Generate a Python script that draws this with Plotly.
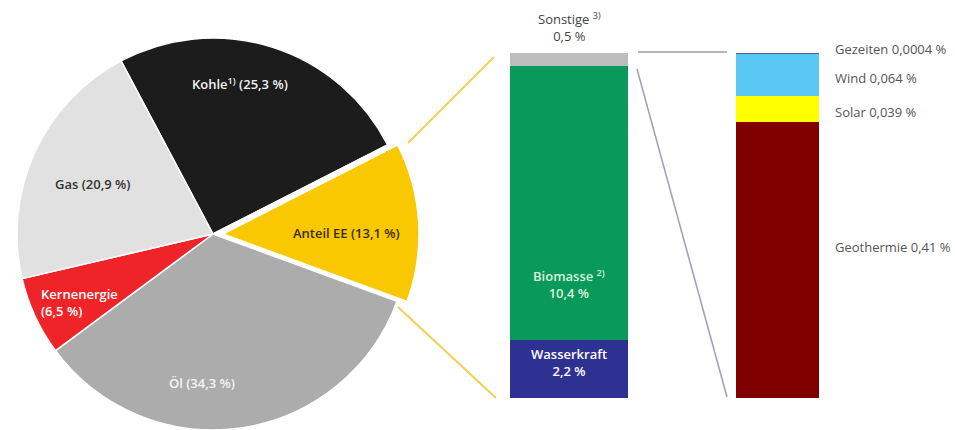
import plotly.graph_objects as go

W, H = 955, 430

# ---- data ----
pie_labels = ["Kohle", "Anteil EE", "Öl", "Kernenergie", "Gas"]
pie_values = [25.3, 13.1, 34.3, 6.5, 20.9]
pie_colors = ["#1c1c1c", "#f9c800", "#acacac", "#ee2429", "#e1e1e1"]
pie_texts = ["Kohle<sup>1)</sup> (25,3 %)", "Anteil EE (13,1 %)", "Öl (34,3 %)",
             "Kernenergie<br>(6,5 %)", "Gas (20,9 %)"]

ee_labels = ["Wasserkraft", "Biomasse", "Sonstige"]
ee_values = [2.2, 10.4, 0.5]
ee_colors = ["#2e3192", "#08995b", "#bdbdbd"]
ee_texts = ["Wasserkraft<br>2,2 %", "Biomasse <sup>2)</sup><br>10,4 %", "Sonstige <sup>3)</sup><br>0,5 %"]

other_labels = ["Geothermie", "Solar", "Wind", "Gezeiten"]
other_values = [0.41, 0.039, 0.064, 0.0004]
other_colors = ["#800000", "#ffff00", "#5ac8f5", "#4f5f8f"]
other_texts = ["Geothermie 0,41 %", "Solar 0,039 %", "Wind 0,064 %", "Gezeiten 0,0004 %"]


def px(x):
    return x / W


def py(y):
    return 1 - y / H


FONT = "Open Sans"
fig = go.Figure()

# main pie (EE slice left empty; drawn exploded by second trace)
pie_dom_y = [0, py(H - 2 * 196)]
main_colors = [c if l != "Anteil EE" else "rgba(0,0,0,0)" for l, c in zip(pie_labels, pie_colors)]
fig.add_trace(go.Pie(
    labels=pie_labels, values=pie_values, sort=False, direction="clockwise", rotation=-28,
    marker=dict(colors=main_colors, line=dict(color="white", width=1.5)),
    textinfo="none", hoverinfo="skip", showlegend=False,
    domain=dict(x=[px(17), px(409)], y=pie_dom_y),
))
ee_only = [c if l == "Anteil EE" else "rgba(0,0,0,0)" for l, c in zip(pie_labels, pie_colors)]
ee_lw = [1.5 if l == "Anteil EE" else 0 for l in pie_labels]
fig.add_trace(go.Pie(
    labels=pie_labels, values=pie_values, sort=False, direction="clockwise", rotation=-28,
    marker=dict(colors=ee_only, line=dict(color="white", width=ee_lw)),
    textinfo="none", hoverinfo="skip", showlegend=False,
    domain=dict(x=[px(27), px(419)], y=pie_dom_y),
))

# EE breakdown bar
for lab, v, c in zip(ee_labels, ee_values, ee_colors):
    fig.add_trace(go.Bar(x=[0], y=[v], marker=dict(color=c, line=dict(width=0)), width=1,
                         name=lab, showlegend=False, hoverinfo="skip", xaxis="x", yaxis="y"))

# Sonstige breakdown bar
for lab, v, c in zip(other_labels, other_values, other_colors):
    lw = 2 if lab == "Gezeiten" else 0
    fig.add_trace(go.Bar(x=[0], y=[v], marker=dict(color=c, line=dict(width=lw, color=c)), width=1,
                         name=lab, showlegend=False, hoverinfo="skip", xaxis="x2", yaxis="y2"))

bar_dom = [py(398), py(53)]
fig.update_layout(
    width=W, height=H, margin=dict(l=0, r=0, t=0, b=0),
    paper_bgcolor="white", plot_bgcolor="rgba(0,0,0,0)",
    barmode="stack", font=dict(family=FONT, size=12, color="#444"),
    xaxis=dict(domain=[px(510), px(628)], range=[-0.5, 0.5], visible=False, fixedrange=True),
    yaxis=dict(domain=bar_dom, range=[0, sum(ee_values)], visible=False, fixedrange=True),
    xaxis2=dict(domain=[px(736), px(819)], range=[-0.5, 0.5], visible=False, anchor="y2"),
    yaxis2=dict(domain=bar_dom, range=[0, sum(other_values)], visible=False, anchor="x2"),
)

# connector lines
yel = "#f3cf55"
gry = "#a09eb0"
lines = [
    (408, 143, 494, 57, yel, 2),
    (398, 307, 496, 398, yel, 2),
    (638, 52, 727, 52, gry, 1.5),
    (637, 69, 727, 397, gry, 1.5),
]
for x0, y0, x1, y1, c, w in lines:
    fig.add_shape(type="line", xref="paper", yref="paper", x0=px(x0), y0=py(y0), x1=px(x1), y1=py(y1),
                  line=dict(color=c, width=w))

# pie labels
pie_pos = {
    "Kohle": (240, 84, "center", "#f2f2f2"),
    "Anteil EE": (346, 233, "center", "#3a2c00"),
    "Öl": (202, 383, "center", "#f4f4f4"),
    "Kernenergie": (39, 302, "left", "#ffffff"),
    "Gas": (92, 184, "center", "#333333"),
}
for lab, t in zip(pie_labels, pie_texts):
    x, y, al, col = pie_pos[lab]
    fig.add_annotation(x=px(x), y=py(y), xref="paper", yref="paper", text=t, showarrow=False,
                       xanchor=al, yanchor="middle", align=al,
                       font=dict(size=13, color=col, family=FONT, weight=600))

# EE bar labels
ee_pos = {
    "Wasserkraft": (569, 362, "#ffffff", 600),
    "Biomasse": (569, 284, "#d8f5d8", 600),
    "Sonstige": (569, 27, "#444444", 400),
}
for lab, t in zip(ee_labels, ee_texts):
    x, y, col, wgt = ee_pos[lab]
    fig.add_annotation(x=px(x), y=py(y), xref="paper", yref="paper", text=t, showarrow=False,
                       xanchor="center", yanchor="middle", align="center",
                       font=dict(size=13, color=col, family=FONT, weight=wgt))

# right labels
oth_y = {"Gezeiten": 49, "Wind": 78, "Solar": 112, "Geothermie": 247}
for lab, t in zip(other_labels, other_texts):
    fig.add_annotation(x=px(833), y=py(oth_y[lab]), xref="paper", yref="paper", text=t, showarrow=False,
                       xanchor="left", yanchor="middle", align="left",
                       font=dict(size=13, color="#555555", family=FONT))

fig.write_html("out.html")
